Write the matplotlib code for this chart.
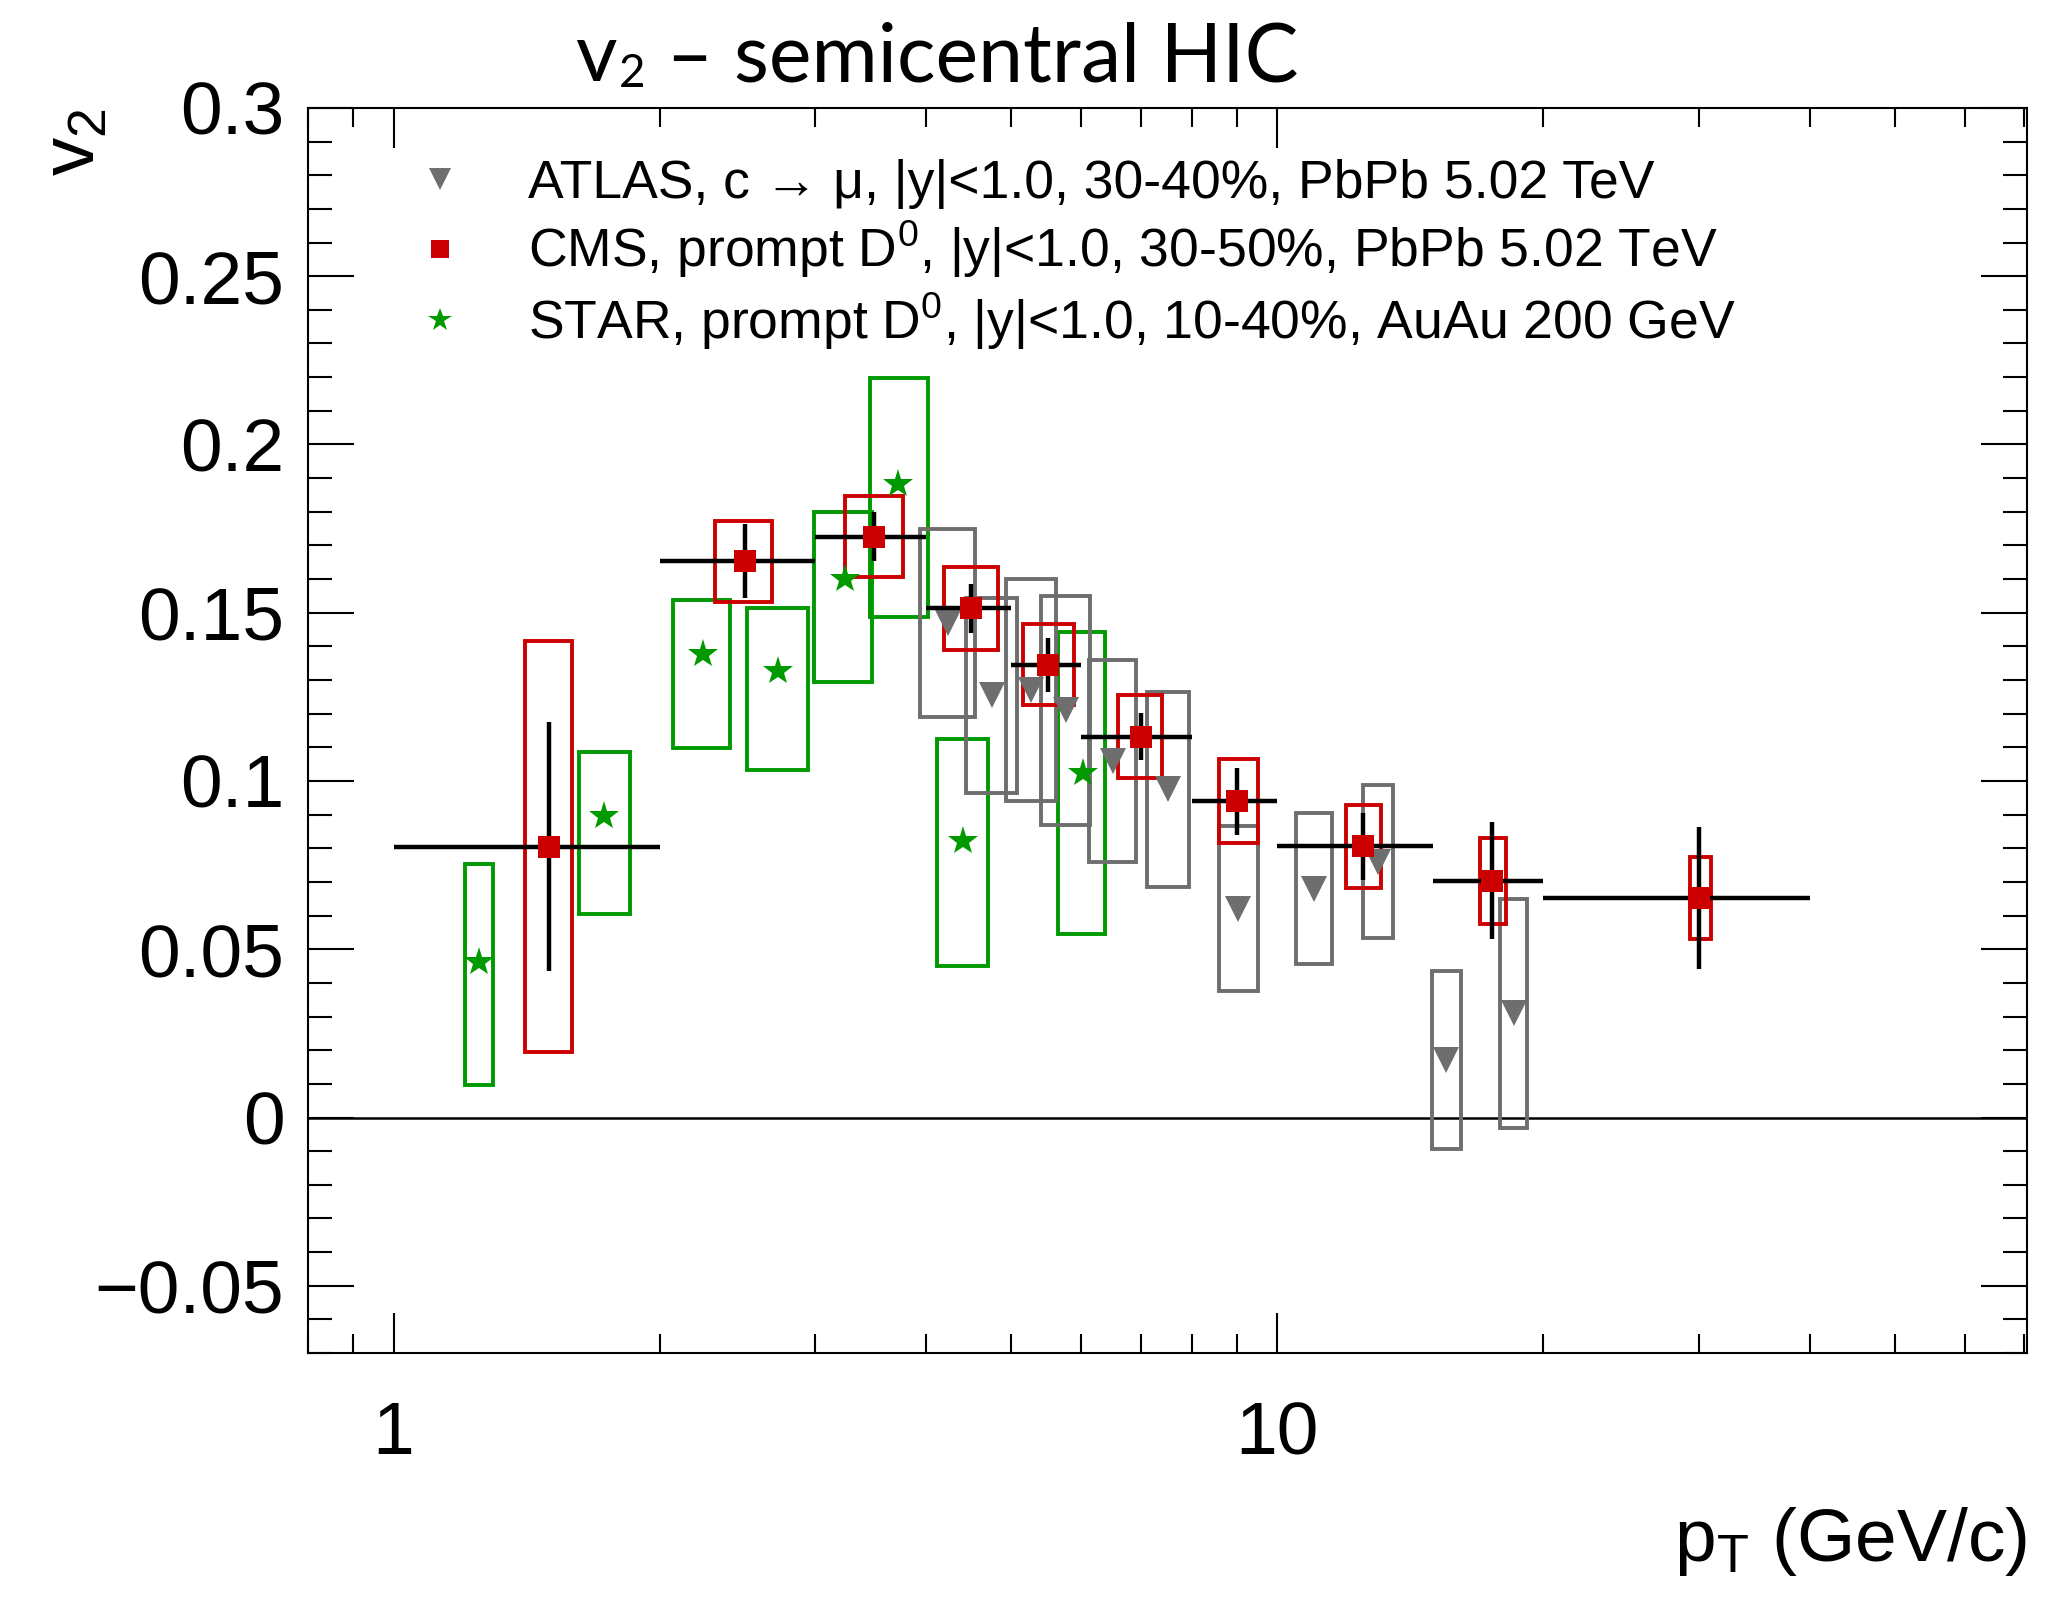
import matplotlib
matplotlib.use('Agg')
import matplotlib.pyplot as plt
from matplotlib.lines import Line2D
from matplotlib.ticker import FixedLocator, FixedFormatter, LogLocator, NullFormatter, MultipleLocator
import numpy as np

plt.rcParams['font.family'] = ['Liberation Sans', 'DejaVu Sans']
plt.rcParams['mathtext.fontset'] = 'custom'
plt.rcParams['mathtext.rm'] = 'Liberation Sans'
plt.rcParams['mathtext.it'] = 'Liberation Sans:italic'
plt.rcParams['mathtext.bf'] = 'Liberation Sans:bold'

# ---- data ----
# CMS prompt D0 (points, bin edges, stat, syst box)
cms_pt = [1.5, 2.5, 3.5, 4.5, 5.5, 7.0, 9.0, 12.5, 17.5, 30.0]
cms_pt_lo = [1, 2, 3, 4, 5, 6, 8, 10, 15, 20]
cms_pt_hi = [2, 3, 4, 5, 6, 8, 10, 15, 20, 40]
cms_v2 = [0.0805, 0.1653, 0.1726, 0.1513, 0.1345, 0.1132, 0.0940, 0.0806, 0.0704, 0.0652]
cms_stat = [0.037, 0.011, 0.0072, 0.0072, 0.008, 0.007, 0.010, 0.010, 0.0174, 0.021]
cms_sys = [0.061, 0.012, 0.012, 0.0123, 0.012, 0.0123, 0.0124, 0.0123, 0.0128, 0.0122]
cms_box_lo = [1.41, 2.31, 3.24, 4.20, 5.16, 6.60, 8.58, 11.97, 16.93, 29.27]
cms_box_hi = [1.59, 2.68, 3.77, 4.83, 5.89, 7.41, 9.51, 13.09, 18.15, 30.95]

# ATLAS c -> mu
atlas_pt = [4.24, 4.75, 5.26, 5.76, 6.51, 7.52, 9.03, 11.0, 13.0, 15.5, 18.5]
atlas_v2 = [0.147, 0.1255, 0.127, 0.121, 0.106, 0.0975, 0.062, 0.068, 0.076, 0.017, 0.031]
atlas_sys = [0.028, 0.029, 0.033, 0.034, 0.030, 0.029, 0.0245, 0.0224, 0.0227, 0.0265, 0.034]
atlas_box_lo = [3.94, 4.44, 4.93, 5.40, 6.12, 7.12, 8.58, 10.49, 12.50, 14.94, 17.88]
atlas_box_hi = [4.55, 5.08, 5.62, 6.14, 6.92, 7.95, 9.51, 11.54, 13.53, 16.14, 19.17]

# STAR prompt D0 (asymmetric syst boxes)
star_pt = [1.25, 1.73, 2.24, 2.72, 3.24, 3.72, 4.41, 6.02]
star_v2 = [0.0463, 0.0895, 0.1377, 0.1326, 0.160, 0.1882, 0.0821, 0.1023]
star_sys_top = [0.0753, 0.1086, 0.1538, 0.1514, 0.1798, 0.2197, 0.1124, 0.1443]
star_sys_bot = [0.0097, 0.0605, 0.1098, 0.1033, 0.1295, 0.1486, 0.0449, 0.0544]
star_box_lo = [1.203, 1.622, 2.07, 2.51, 2.99, 3.46, 4.12, 5.64]
star_box_hi = [1.296, 1.849, 2.40, 2.94, 3.48, 4.02, 4.71, 6.38]

labels = ['ATLAS, c \u2192 \u03bc, |y|<1.0, 30-40%, PbPb 5.02 TeV',
          'CMS, prompt D$^{0}$, |y|<1.0, 30-50%, PbPb 5.02 TeV',
          'STAR, prompt D$^{0}$, |y|<1.0, 10-40%, AuAu 200 GeV']
yticks = [-0.05, 0, 0.05, 0.1, 0.15, 0.2, 0.25, 0.3]
yticklabels = ['\u22120.05', '0', '0.05', '0.1', '0.15', '0.2', '0.25', '0.3']

c_gray = '#6e6e6e'
c_red = '#cc0000'
c_green = '#009900'

fig = plt.figure(figsize=(20.49, 15.99), dpi=100)
ax = fig.add_axes([0.1503, 0.1538, 0.8390, 0.7787])

def boxes(lo, hi, bot, top, color, z):
    lo, hi, bot, top = map(np.asarray, (lo, hi, bot, top))
    ax.bar(lo, top - bot, width=hi - lo, bottom=bot, align='edge',
           fill=False, edgecolor=color, linewidth=2.8, zorder=z)

# systematic boxes
boxes(star_box_lo, star_box_hi, star_sys_bot, star_sys_top, c_green, 2.0)
a_v, a_s = np.array(atlas_v2), np.array(atlas_sys)
boxes(atlas_box_lo, atlas_box_hi, a_v - a_s, a_v + a_s, c_gray, 2.1)
c_v, c_s = np.array(cms_v2), np.array(cms_sys)
boxes(cms_box_lo, cms_box_hi, c_v - c_s, c_v + c_s, c_red, 2.2)

ax.axhline(0, color='k', lw=1.8, zorder=1.5)

# markers
ax.plot(atlas_pt, atlas_v2, 'v', color=c_gray, ms=19, mew=0, zorder=3)
ax.plot(star_pt, star_v2, '*', color=c_green, ms=22, mew=0, zorder=3.1)
cp = np.array(cms_pt)
ax.errorbar(cms_pt, cms_v2,
            xerr=[cp - np.array(cms_pt_lo), np.array(cms_pt_hi) - cp],
            yerr=cms_stat, fmt='none', ecolor='k', elinewidth=3.2,
            capsize=0, zorder=3.2)
ax.plot(cms_pt, cms_v2, 's', color=c_red, ms=15.5, mew=0, zorder=3.3)

# axes
ax.set_xscale('log')
ax.set_xlim(0.8, 70.5)
ax.set_ylim(-0.07, 0.3)
ax.xaxis.set_major_locator(FixedLocator([1, 10]))
ax.xaxis.set_major_formatter(FixedFormatter(['1', '10']))
ax.xaxis.set_minor_locator(LogLocator(base=10, subs=np.arange(2, 10)))
ax.xaxis.set_minor_formatter(NullFormatter())
ax.yaxis.set_major_locator(FixedLocator(yticks))
ax.yaxis.set_major_formatter(FixedFormatter(yticklabels))
ax.yaxis.set_minor_locator(MultipleLocator(0.01))

ax.tick_params(which='both', direction='in', top=True, right=True, width=1.5, colors='k')
ax.tick_params(axis='x', which='major', length=29, pad=34, labelsize=54)
ax.tick_params(axis='x', which='minor', length=14)
ax.tick_params(axis='y', which='major', length=33, pad=17, labelsize=54)
ax.tick_params(axis='y', which='minor', length=17)
for s in ax.spines.values():
    s.set_linewidth(1.5)

ax.set_xlabel('$\\mathrm{p}_{\\mathrm{T}}$ (GeV/c)', fontsize=54, loc='right')
ax.xaxis.set_label_coords(1.0, -0.122)
ax.set_ylabel('$\\mathrm{v}_{2}$', fontsize=55, loc='top')
ax.yaxis.set_label_coords(-0.115, 1.0)

# legend
handles = [Line2D([], [], ls='none', marker='v', color=c_gray, ms=19, mew=0),
           Line2D([], [], ls='none', marker='s', color=c_red, ms=15.5, mew=0),
           Line2D([], [], ls='none', marker='*', color=c_green, ms=22, mew=0)]
ax.legend(handles, labels, loc='upper left', bbox_to_anchor=(0.061, 0.959),
          frameon=False, fontsize=38.5, markerscale=0.8, handlelength=1.0,
          handletextpad=1.16, labelspacing=0.19, borderpad=0, borderaxespad=0)

# title: v_2 - semicentral HIC
t1 = fig.text(575 / 2049, 1 - 81 / 1599, 'v', fontsize=58, family='Lato',
              ha='left', va='baseline')
t2 = ax.annotate('2', xy=(1, 0), xycoords=t1, xytext=(2, 0), textcoords='offset points',
                 fontsize=33, family='Lato', ha='left', va='bottom', annotation_clip=False)
t3 = ax.annotate(' \u2013 semicentral HIC', xy=(1, 0), xycoords=t2, xytext=(0, 0),
                 textcoords='offset points', fontsize=58, family='Lato',
                 ha='left', va='bottom', annotation_clip=False)

fig.savefig('out.png', dpi=100)
